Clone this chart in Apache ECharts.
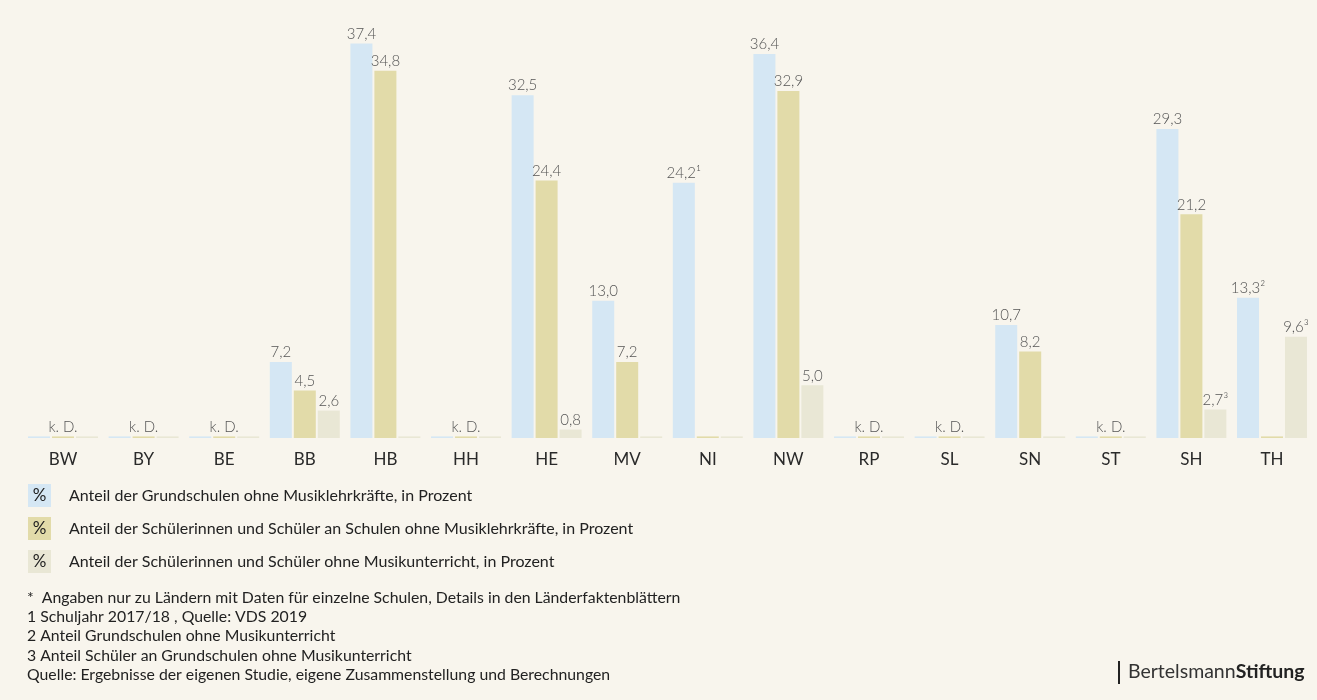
<!DOCTYPE html>
<html>
<head>
<meta charset="utf-8">
<script src="https://cdn.jsdelivr.net/npm/echarts@6/dist/echarts.min.js"></script>
<style>
  html, body { margin: 0; padding: 0; background: #f8f5ed; }
  #main { width: 1317px; height: 700px; }
</style>
</head>
<body>
<div id="main"></div>
<script>
// Länder (Kategorien)
var laender = ['BW', 'BY', 'BE', 'BB', 'HB', 'HH', 'HE', 'MV', 'NI', 'NW', 'RP', 'SL', 'SN', 'ST', 'SH', 'TH'];

var serienNamen = [
  'Anteil der Grundschulen ohne Musiklehrkräfte, in Prozent',
  'Anteil der Schülerinnen und Schüler an Schulen ohne Musiklehrkräfte, in Prozent',
  'Anteil der Schülerinnen und Schüler ohne Musikunterricht, in Prozent'
];

// null = keine Daten
var grundschulen = [null, null, null, 7.2, 37.4, null, 32.5, 13.0, 24.2, 36.4, null, null, 10.7, null, 29.3, 13.3];
var schuelerLehrkraefte = [null, null, null, 4.5, 34.8, null, 24.4, 7.2, null, 32.9, null, null, 8.2, null, 21.2, null];
var schuelerUnterricht = [null, null, null, 2.6, null, null, 0.8, null, null, 5.0, null, null, null, null, 2.7, 9.6];

// Fußnoten-Hochzahlen an den Werten
var fussGrundschulen = ['', '', '', '', '', '', '', '', '¹', '', '', '', '', '', '', '²'];
var fussUnterricht = ['', '', '', '', '', '', '', '', '', '', '', '', '', '', '³', '³'];

// Länder ganz ohne Daten
var keineDaten = ['BW', 'BY', 'BE', 'HH', 'RP', 'SL', 'ST'];

var fussnoten = [
  '*  Angaben nur zu Ländern mit Daten für einzelne Schulen, Details in den Länderfaktenblättern',
  '1 Schuljahr 2017/18 , Quelle: VDS 2019',
  '2 Anteil Grundschulen ohne Musikunterricht',
  '3 Anteil Schüler an Grundschulen ohne Musikunterricht',
  'Quelle: Ergebnisse der eigenen Studie, eigene Zusammenstellung und Berechnungen'
];

var farben = ['#d5e7f4', '#e2dba9', '#e9e7d5'];

function komma(v) {
  return v.toFixed(1).replace('.', ',');
}

function baueDaten(werte, fuss, kdLabel) {
  return werte.map(function (v, i) {
    if (v === null) {
      var item = { value: 0.15, label: { show: false } };
      if (kdLabel && keineDaten.indexOf(laender[i]) >= 0) {
        item.label = { show: true, formatter: 'k. D.' };
      }
      return item;
    }
    return { value: v, label: { show: true, formatter: komma(v) + (fuss ? fuss[i] : '') } };
  });
}

var labelStil = {
  position: 'top',
  distance: 2,
  color: '#555',
  fontFamily: 'Lato',
  fontWeight: 300,
  fontSize: 15
};

var myChart = echarts.init(document.getElementById('main'));

// "%" mittig in die Legendenkästchen
var prozentZeichen = serienNamen.map(function (n, i) {
  return {
    type: 'text', z: 100,
    style: {
      x: 39.5, y: 495.5 + i * 33, text: '%', fill: '#222', font: '17px Lato',
      align: 'center', verticalAlign: 'middle'
    }
  };
});

var option = {
  backgroundColor: '#f8f5ed',
  animation: false,
  grid: { left: 22.7, right: 4.7, top: 16, bottom: 262 },
  xAxis: {
    type: 'category',
    data: laender,
    axisLine: { show: false },
    axisTick: { show: false },
    axisLabel: { color: '#2a2a2a', fontFamily: 'Lato', fontSize: 17, margin: 13 }
  },
  yAxis: {
    type: 'value', min: 0, max: 40, show: false,
    splitLine: { show: false }
  },
  legend: {
    orient: 'vertical',
    left: 28,
    top: 484,
    padding: 0,
    itemGap: 10,
    itemWidth: 23,
    itemHeight: 23,
    icon: 'rect',
    selectedMode: false,
    textStyle: { color: '#222', fontFamily: 'Lato', fontSize: 16, padding: [0, 0, 0, 13] },
    data: serienNamen
  },
  series: [
    {
      name: serienNamen[0], type: 'bar', barWidth: 22, barGap: '9%',
      itemStyle: { color: farben[0] }, label: labelStil,
      data: baueDaten(grundschulen, fussGrundschulen, false)
    },
    {
      name: serienNamen[1], type: 'bar', barWidth: 22, barGap: '9%',
      itemStyle: { color: farben[1] }, label: labelStil,
      data: baueDaten(schuelerLehrkraefte, null, true)
    },
    {
      name: serienNamen[2], type: 'bar', barWidth: 22, barGap: '9%',
      itemStyle: { color: farben[2] }, label: labelStil,
      data: baueDaten(schuelerUnterricht, fussUnterricht, false)
    }
  ],
  graphic: prozentZeichen.concat([
    {
      type: 'text', left: 27, top: 588,
      style: { text: fussnoten.join('\n'), fill: '#222', font: '15.8px Lato', lineHeight: 19.3 }
    },
    { type: 'rect', shape: { x: 1118, y: 661, width: 2, height: 23 }, style: { fill: '#222' } },
    {
      type: 'text', left: 1128, top: 662,
      style: {
        text: '{a|Bertelsmann}{b|Stiftung}',
        rich: {
          a: { fill: '#333', fontFamily: 'Lato', fontSize: 19.5 },
          b: { fill: '#222', fontFamily: 'Lato', fontSize: 19.5, fontWeight: 'bold' }
        }
      }
    }
  ])
};

myChart.setOption(option);
</script>
</body>
</html>
